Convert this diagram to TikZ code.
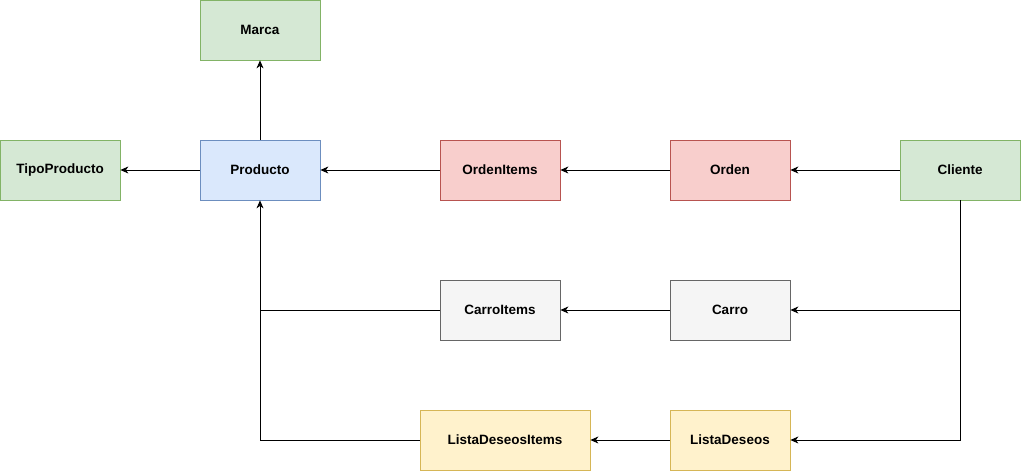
\documentclass[tikz,border=0pt]{standalone}
\usepackage{fontspec}
\setmainfont{Liberation Sans}
\usetikzlibrary{arrows.meta}

\definecolor{greenfill}{HTML}{D5E8D4}
\definecolor{greenline}{HTML}{82B366}
\definecolor{bluefill}{HTML}{DAE8FC}
\definecolor{blueline}{HTML}{6C8EBF}
\definecolor{redfill}{HTML}{F8CECC}
\definecolor{redline}{HTML}{B85450}
\definecolor{greyfill}{HTML}{F5F5F5}
\definecolor{greyline}{HTML}{666666}
\definecolor{yellowfill}{HTML}{FFF2CC}
\definecolor{yellowline}{HTML}{D6B656}

\tikzset{
	entity/.style={draw, line width=0.8pt, minimum width=120pt, minimum height=60pt, inner sep=0pt, font=\bfseries\fontsize{13.5pt}{16pt}\selectfont},
	greenbox/.style={entity, fill=greenfill, draw=greenline},
	bluebox/.style={entity, fill=bluefill, draw=blueline},
	redbox/.style={entity, fill=redfill, draw=redline},
	greybox/.style={entity, fill=greyfill, draw=greyline},
	yellowbox/.style={entity, fill=yellowfill, draw=yellowline},
	link/.style={line width=0.8pt, -{Stealth[length=8pt,width=7pt,inset=2.5pt]}},
	plainlink/.style={line width=0.8pt}
}

\begin{document}
\begin{tikzpicture}[x=1pt,y=-1pt]
	\useasboundingbox (0,0) rectangle (1021,471);
	% entities
	\node [greenbox] (marca) at (260,30) {Marca};
	\node [greenbox] (tipoproducto) at (60,170) {TipoProducto};
	\node [bluebox] (producto) at (260,170) {Producto};
	\node [redbox] (ordenitems) at (500,170) {OrdenItems};
	\node [redbox] (orden) at (730,170) {Orden};
	\node [greenbox] (cliente) at (960,170) {Cliente};
	\node [greybox] (carroitems) at (500,310) {CarroItems};
	\node [greybox] (carro) at (730,310) {Carro};
	\node [yellowbox, minimum width=170pt] (listaitems) at (505,440) {ListaDeseosItems};
	\node [yellowbox] (listadeseos) at (730,440) {ListaDeseos};
	% relations
	\coordinate (carrojoin) at (960,310);
	\coordinate (prodjoin) at (260,310);
	\draw [link] (producto) -- (marca);
	\draw [link] (producto) -- (tipoproducto);
	\draw [link] (ordenitems) -- (producto);
	\draw [link] (orden) -- (ordenitems);
	\draw [link] (cliente) -- (orden);
	\draw [link] (cliente.south) |- (listadeseos.east);
	\draw [link] (carrojoin) -- (carro.east);
	\draw [link] (carro) -- (carroitems);
	\draw [plainlink] (carroitems.west) -- (prodjoin);
	\draw [link] (listadeseos) -- (listaitems);
	\draw [link] (listaitems.west) -| (producto.south);
\end{tikzpicture}
\end{document}
